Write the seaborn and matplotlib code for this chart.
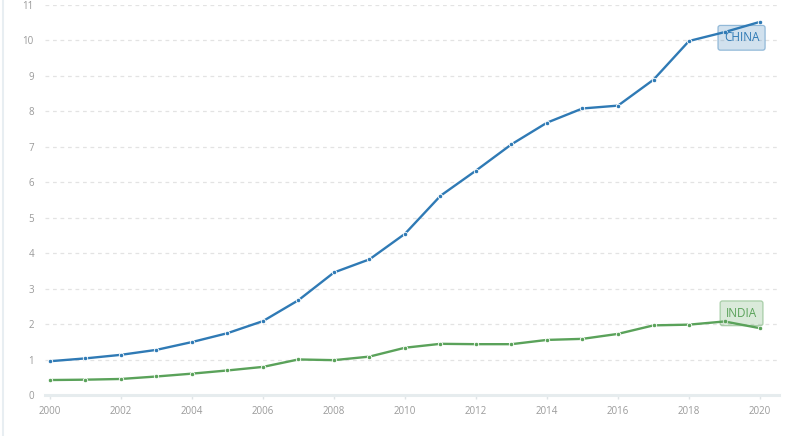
import matplotlib
matplotlib.use("Agg")
import matplotlib.pyplot as plt
import pandas as pd
import seaborn as sns

years = list(range(2000, 2021))
china = [0.96, 1.04, 1.14, 1.28, 1.50, 1.75, 2.09, 2.68, 3.46, 3.83, 4.55,
         5.62, 6.33, 7.07, 7.68, 8.08, 8.16, 8.89, 9.98, 10.23, 10.52]
india = [0.43, 0.44, 0.46, 0.53, 0.61, 0.70, 0.80, 1.01, 0.99, 1.09, 1.34,
         1.45, 1.44, 1.44, 1.56, 1.59, 1.73, 1.97, 1.99, 2.08, 1.89]
countries = ["CHINA", "INDIA"]
colors = {"CHINA": "#2f7ab5", "INDIA": "#5aa25a"}
label_pos = {"CHINA": (2019.48, 10.07), "INDIA": (2019.48, 2.31)}

df = pd.DataFrame({
    "year": years * 2,
    "value": china + india,
    "country": ["CHINA"] * len(years) + ["INDIA"] * len(years),
})

sns.set_theme(style="white")
plt.rcParams["font.family"] = ["Open Sans", "DejaVu Sans"]

fig = plt.figure(figsize=(7.88, 4.36), dpi=100)
ax = fig.add_axes([45 / 788, 40.7 / 436, 734 / 788, 390.5 / 436])

sns.lineplot(data=df, x="year", y="value", hue="country", palette=colors,
             ax=ax, linewidth=1.7, marker="o", markersize=3.2,
             markeredgecolor="white", markeredgewidth=0.6, legend=False)

for c in countries:
    x, y = label_pos[c]
    ax.text(x, y, c, color=colors[c], fontsize=8.5, ha="center", va="center",
            zorder=5,
            bbox=dict(boxstyle="round,pad=0.5,rounding_size=0.2",
                      facecolor=matplotlib.colors.to_rgba(colors[c], 0.22),
                      edgecolor=matplotlib.colors.to_rgba(colors[c], 0.45),
                      linewidth=0.9))

ax.set_xlim(1999.86, 2020.535)
ax.set_ylim(0, 11)
ax.set_xticks(range(2000, 2021, 2))
ax.set_yticks(range(0, 12))
ax.set_xlabel("")
ax.set_ylabel("")

for y in range(1, 12):
    ax.axhline(y, color="#e3e3e3", linewidth=0.9, linestyle=(0, (3, 3)), zorder=0)

for s in ["top", "right", "left"]:
    ax.spines[s].set_visible(False)
ax.spines["bottom"].set_color("#e6ecee")
ax.spines["bottom"].set_linewidth(2.2)

ax.tick_params(axis="x", colors="#9a9a9a", labelsize=7, length=3, width=1,
               color="#dfe4e6", pad=5, bottom=True)
ax.tick_params(axis="y", colors="#9a9a9a", labelsize=7, length=0, pad=8)

fig.add_artist(plt.Line2D([2.5 / 788, 2.5 / 788], [0, 1], color="#e8eef2",
                          linewidth=1.5, transform=fig.transFigure))

fig.savefig("out.png", dpi=100)
